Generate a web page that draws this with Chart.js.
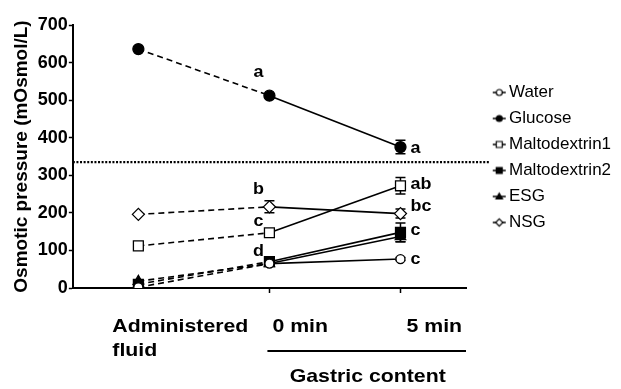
<!DOCTYPE html>
<html>
<head>
<meta charset="utf-8">
<script src="https://cdn.jsdelivr.net/npm/chart.js@4"></script>
<style>
  html, body { margin: 0; padding: 0; background: #fff; }
  #wrap { width: 621px; height: 389px; }
</style>
</head>
<body>
<div id="wrap"><canvas id="osmoChart" width="621" height="389"></canvas></div>
<script>
// --- DATOS ---
const categories = ['Administered fluid', '0 min', '5 min'];
const seriesNames = ['Water', 'Glucose', 'Maltodextrin1', 'Maltodextrin2', 'ESG', 'NSG'];

const water = [2, 65, 77];
const glucose = [636, 512, 375];
const malto1 = [112, 147, 272];
const malto2 = [10, 70, 148];
const esg = [18, 65, 137];
const nsg = [196, 216, 198];

const waterErr = [0, 3, 4];
const glucoseErr = [0, 5, 18];
const malto1Err = [0, 4, 22];
const malto2Err = [0, 5, 25];
const esgErr = [0, 5, 14];
const nsgErr = [0, 16, 12];

const yTicks = [0, 100, 200, 300, 400, 500, 600, 700];
const refLevel = 335;

// letras de significancia: texto, categoria, valor
const letterTexts = ['a', 'b', 'c', 'd', 'a', 'ab', 'bc', 'c', 'c'];
const letterCats = [1, 1, 1, 1, 2, 2, 2, 2, 2];
const letterValues = [572, 261, 176, 96, 370, 274, 216, 152, 75];

const FONT = '"Liberation Sans", Arial, sans-serif';
const STRETCH = 1.12;

// --- ESTILOS DE SERIES ---
const styles = [
    { shape: 'circle', fill: '#fff', r: 4.5 },
    { shape: 'circle', fill: '#000', r: 5.5 },
    { shape: 'rect', fill: '#fff', r: 7 },
    { shape: 'rect', fill: '#000', r: 7 },
    { shape: 'triangle', fill: '#000', r: 6 },
    { shape: 'rectRot', fill: '#fff', r: 6 }
];
const values = [water, glucose, malto1, malto2, esg, nsg];
const errors = [waterErr, glucoseErr, malto1Err, malto2Err, esgErr, nsgErr];

function drawMarker(ctx, shape, x, y, r, fill) {
    ctx.beginPath();
    if (shape === 'circle') {
        ctx.arc(x, y, r, 0, Math.PI * 2);
    } else if (shape === 'rect') {
        ctx.rect(x - r, y - r, r * 2, r * 2);
    } else if (shape === 'triangle') {
        ctx.moveTo(x, y - r * 1.1);
        ctx.lineTo(x + r * 1.1, y + r * 0.8);
        ctx.lineTo(x - r * 1.1, y + r * 0.8);
        ctx.closePath();
    } else {
        ctx.moveTo(x, y - r * 1.2);
        ctx.lineTo(x + r * 1.2, y);
        ctx.lineTo(x, y + r * 1.2);
        ctx.lineTo(x - r * 1.2, y);
        ctx.closePath();
    }
    ctx.fillStyle = fill;
    ctx.fill();
    ctx.lineWidth = 1.2;
    ctx.strokeStyle = '#000';
    ctx.stroke();
}

// icono de leyenda: linea con marcador (lienzo mas ancho que la caja)
function legendIcon(style) {
    const c = document.createElement('canvas');
    c.width = 40; c.height = 12;
    const ctx = c.getContext('2d');
    ctx.strokeStyle = '#000';
    ctx.lineWidth = 1.5;
    ctx.beginPath();
    ctx.moveTo(25, 6); ctx.lineTo(38, 6);
    ctx.stroke();
    drawMarker(ctx, style.shape, 31.5, 6, 3, style.fill);
    return c;
}

const datasets = seriesNames.map((name, i) => ({
    label: name,
    data: values[i],
    errors: errors[i],
    borderColor: '#000',
    borderWidth: 1.6,
    backgroundColor: styles[i].fill,
    pointBackgroundColor: styles[i].fill,
    pointBorderColor: '#000',
    pointBorderWidth: 1.3,
    pointStyle: styles[i].shape,
    pointRadius: styles[i].r,
    pointHoverRadius: styles[i].r,
    legendIcon: legendIcon(styles[i]),
    segment: {
        borderDash: ctx => ctx.p0DataIndex === 0 ? [6, 4] : []
    },
    tension: 0
}));

// --- PLUGINS ---
const refLinePlugin = {
    id: 'refLine',
    beforeDatasetsDraw(chart) {
        const { ctx, chartArea, scales } = chart;
        const y = scales.y.getPixelForValue(refLevel);
        ctx.save();
        ctx.strokeStyle = '#000';
        ctx.lineWidth = 2.2;
        ctx.setLineDash([2, 1.6]);
        ctx.beginPath();
        ctx.moveTo(chartArea.left, y);
        ctx.lineTo(chartArea.right + 23, y);
        ctx.stroke();
        ctx.restore();
    }
};

// barras de error debajo de los marcadores
const errorBarsPlugin = {
    id: 'errorBars',
    beforeDatasetsDraw(chart) {
        const { ctx, scales } = chart;
        ctx.save();
        ctx.strokeStyle = '#000';
        ctx.lineWidth = 1.5;
        chart.data.datasets.forEach(ds => {
            ds.data.forEach((v, j) => {
                const e = ds.errors[j];
                if (!e) return;
                const x = scales.x.getPixelForValue(j);
                const y1 = scales.y.getPixelForValue(v + e);
                const y2 = scales.y.getPixelForValue(v - e);
                ctx.beginPath();
                ctx.moveTo(x, y1); ctx.lineTo(x, y2);
                ctx.moveTo(x - 5, y1); ctx.lineTo(x + 5, y1);
                ctx.moveTo(x - 5, y2); ctx.lineTo(x + 5, y2);
                ctx.stroke();
            });
        });
        ctx.restore();
    }
};

function stretchedText(ctx, text, x, y, align) {
    ctx.save();
    ctx.translate(x, y);
    ctx.scale(STRETCH, 1);
    ctx.textAlign = align;
    ctx.fillText(text, 0, 0);
    ctx.restore();
}

const labelsPlugin = {
    id: 'labels',
    afterDraw(chart) {
        const { ctx, scales, chartArea } = chart;
        const x = scales.x, y = scales.y;
        ctx.save();
        ctx.fillStyle = '#000';
        ctx.textBaseline = 'middle';

        // letras
        ctx.font = 'bold 16px ' + FONT;
        letterTexts.forEach((t, i) => {
            const cx = x.getPixelForValue(letterCats[i]);
            const cy = y.getPixelForValue(letterValues[i]);
            if (letterCats[i] === 1) stretchedText(ctx, t, cx - 11, cy, 'center');
            else stretchedText(ctx, t, cx + 10, cy, 'left');
        });

        // etiquetas del eje x
        ctx.font = 'bold 19px ' + FONT;
        const base = chartArea.bottom;
        const p0 = x.getPixelForValue(0), p1 = x.getPixelForValue(1), p2 = x.getPixelForValue(2);
        stretchedText(ctx, 'Administered', p0 - 26, base + 39, 'left');
        stretchedText(ctx, 'fluid', p0 - 26, base + 63, 'left');
        stretchedText(ctx, categories[1], p1 + 3, base + 39, 'left');
        stretchedText(ctx, categories[2], p2 + 6, base + 39, 'left');

        ctx.strokeStyle = '#000';
        ctx.lineWidth = 2;
        ctx.beginPath();
        ctx.moveTo(p1 - 2, base + 63);
        ctx.lineTo(chartArea.right, base + 63);
        ctx.stroke();
        stretchedText(ctx, 'Gastric content', (p1 + chartArea.right) / 2, base + 89, 'center');
        ctx.restore();
    }
};

// --- GRAFICO ---
new Chart(document.getElementById('osmoChart'), {
    type: 'line',
    data: { labels: categories, datasets: datasets },
    plugins: [refLinePlugin, errorBarsPlugin, labelsPlugin],
    options: {
        responsive: false,
        animation: false,
        events: [],
        layout: { padding: { top: 25, left: 10, right: 3, bottom: 0 } },
        plugins: {
            tooltip: { enabled: false },
            legend: {
                position: 'right',
                align: 'start',
                title: {
                    display: true,
                    text: '',
                    color: '#000',
                    font: { size: 10 },
                    padding: { top: 38, bottom: 0 }
                },
                labels: {
                    usePointStyle: true,
                    pointStyleWidth: 25.5,
                    boxHeight: 12,
                    padding: 9,
                    color: '#000',
                    font: { family: FONT, size: 17 },
                    generateLabels: chart => chart.data.datasets.map((ds, i) => ({
                        text: ds.label,
                        pointStyle: ds.legendIcon,
                        fillStyle: ds.backgroundColor,
                        strokeStyle: '#000',
                        fontColor: '#000',
                        lineWidth: 0,
                        hidden: false,
                        datasetIndex: i
                    }))
                }
            }
        },
        scales: {
            x: {
                type: 'category',
                offset: true,
                afterFit: s => { s.height = 101; },
                border: { display: true, color: '#000', width: 2 },
                grid: {
                    display: true,
                    drawOnChartArea: false,
                    drawTicks: true,
                    tickLength: 5,
                    tickWidth: 1.5,
                    tickColor: c => c.index === 0 ? 'rgba(0,0,0,0)' : '#000'
                },
                ticks: { display: false }
            },
            y: {
                min: 0,
                max: 700,
                afterBuildTicks: s => { s.ticks = yTicks.map(v => ({ value: v })); },
                border: { display: true, color: '#000', width: 2 },
                grid: {
                    display: true,
                    drawOnChartArea: false,
                    drawTicks: true,
                    tickLength: 4,
                    tickWidth: 1.5,
                    tickColor: '#000'
                },
                ticks: {
                    color: '#000',
                    padding: 1,
                    font: { family: FONT, size: 18, weight: 'bold' }
                },
                title: {
                    display: true,
                    text: 'Osmotic pressure (mOsmol/L)',
                    color: '#000',
                    padding: { top: 0, bottom: 4 },
                    font: { family: FONT, size: 19, weight: 'bold' }
                }
            }
        }
    }
});
</script>
</body>
</html>
